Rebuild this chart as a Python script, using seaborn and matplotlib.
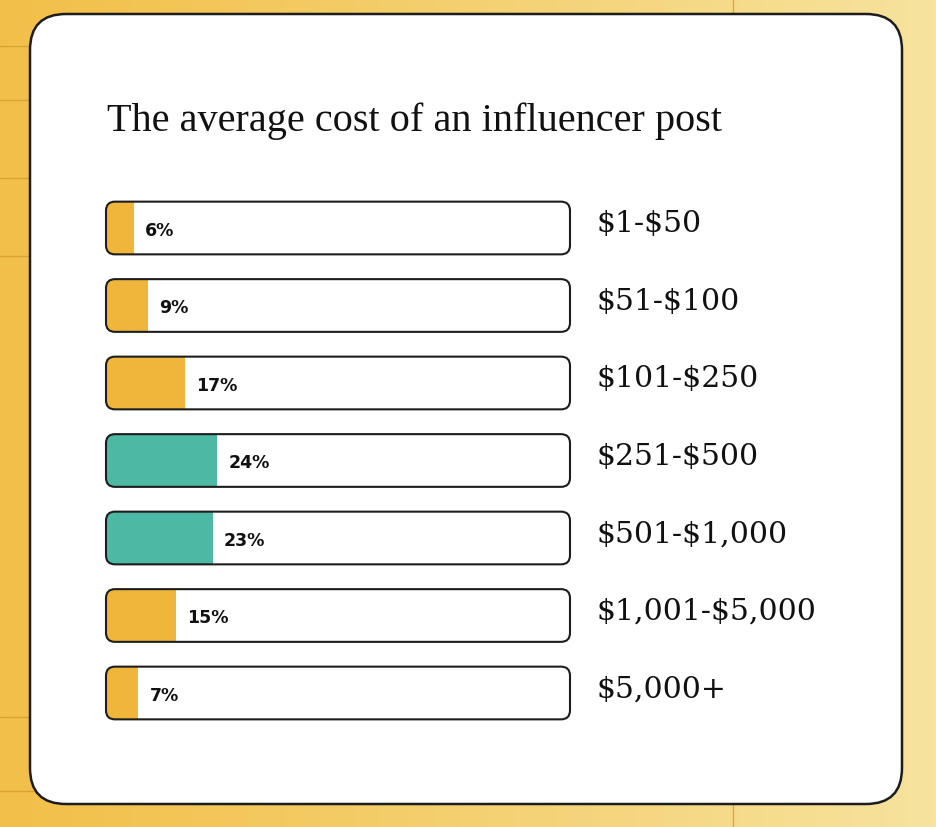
import matplotlib
matplotlib.use('Agg')
import matplotlib.pyplot as plt
from matplotlib.patches import FancyBboxPatch
from matplotlib.colors import to_rgb
import seaborn as sns
import pandas as pd
import numpy as np

# data
categories = ['$1-$50', '$51-$100', '$101-$250', '$251-$500',
              '$501-$1,000', '$1,001-$5,000', '$5,000+']
shares = [6, 9, 17, 24, 23, 15, 7]
highlight = [False, False, False, True, True, False, False]
title = 'The average cost of an influencer post'

YELLOW = '#F0B63C'
TEAL = '#4DB8A3'
INK = '#1d1d1d'

df = pd.DataFrame({'cost': categories, 'share': shares, 'top': highlight})
palette = {c: (TEAL if h else YELLOW) for c, h in zip(categories, highlight)}

sns.set_style('white')
plt.rcParams['text.parse_math'] = False

W, H = 936, 828
fig = plt.figure(figsize=(W / 100, H / 100), dpi=100)

# background: warm yellow gradient with faint ruled lines
bg = fig.add_axes([0, 0, 1, 1], zorder=-5)
left, right = np.array(to_rgb('#F2C049')), np.array(to_rgb('#F7E39E'))
t = np.linspace(0, 1, 200)[None, :, None] ** 1.1
grad = left + (right - left) * t
grad = np.repeat(grad, 10, axis=0)
bg.imshow(grad, extent=(0, 1, 0, 1), aspect='auto')
for yy in [47, 101, 179, 257, 718, 792]:
    bg.plot([0, 0.04], [1 - yy / H] * 2, color='#D39B2E', lw=1.0, alpha=0.8)
for y0, y1 in [(0, 15), (805, 828)]:
    bg.plot([733 / W] * 2, [1 - y0 / H, 1 - y1 / H], color='#D39B2E', lw=1.0, alpha=0.8)
bg.set_xlim(0, 1)
bg.set_ylim(0, 1)
bg.axis('off')

# white card
card = FancyBboxPatch((30 / W, 1 - 805 / H), 872 / W, 790 / H,
                      boxstyle='round,pad=0,rounding_size=%f' % (36 / W),
                      mutation_aspect=W / H, facecolor='white',
                      edgecolor=INK, lw=1.8, zorder=2)
bg.add_patch(card)

fig.text(107 / W, 1 - 131 / H, title, family='Liberation Serif',
         fontsize=29, color='#111111', va='baseline', ha='left')

# bar area: x 0..100 spans the outlined track
ax_l, ax_w = 106, 464
row = 77.5
ax_top = 229 - row / 2
ax_h = row * 7
ax = fig.add_axes([ax_l / W, 1 - (ax_top + ax_h) / H, ax_w / W, ax_h / H])
ax.patch.set_alpha(0)

bar_h = 0.68
sns.barplot(data=df, x='share', y='cost', hue='cost', palette=palette,
            orient='h', width=bar_h, legend=False, saturation=1,
            edgecolor='none', ax=ax, zorder=2)
ax.set_xlim(0, 100)
ax.set_ylim(len(categories) - 0.5, -0.5)
ax.axis('off')

px_x = ax_w / 100
px_y = row
aspect = px_x / px_y
r = 9 / px_x

bars = list(ax.patches)
tracks = []
for i, (cat, val) in enumerate(zip(categories, shares)):
    track = FancyBboxPatch((0, i - bar_h / 2), 100, bar_h,
                           boxstyle='round,pad=0,rounding_size=%f' % r,
                           mutation_aspect=aspect, facecolor='white',
                           edgecolor='none', zorder=1)
    ax.add_patch(track)
    tracks.append(track)
    outline = FancyBboxPatch((0, i - bar_h / 2), 100, bar_h,
                             boxstyle='round,pad=0,rounding_size=%f' % r,
                             mutation_aspect=aspect, facecolor='none',
                             edgecolor=INK, lw=1.5, zorder=3, clip_on=False)
    ax.add_patch(outline)
    ax.text(val + 2.4, i + 0.02, f'{val}%', fontsize=12.5, fontweight='bold',
            family='DejaVu Sans', color='#111111', va='center', ha='left', zorder=4)
    ax.text(105.8, i - 0.06, cat, fontsize=21.5, family='DejaVu Serif',
            color='#111111', va='center', ha='left', clip_on=False)

for b, tr in zip(bars, tracks):
    b.set_clip_path(tr)

fig.savefig('out.png', dpi=100)
